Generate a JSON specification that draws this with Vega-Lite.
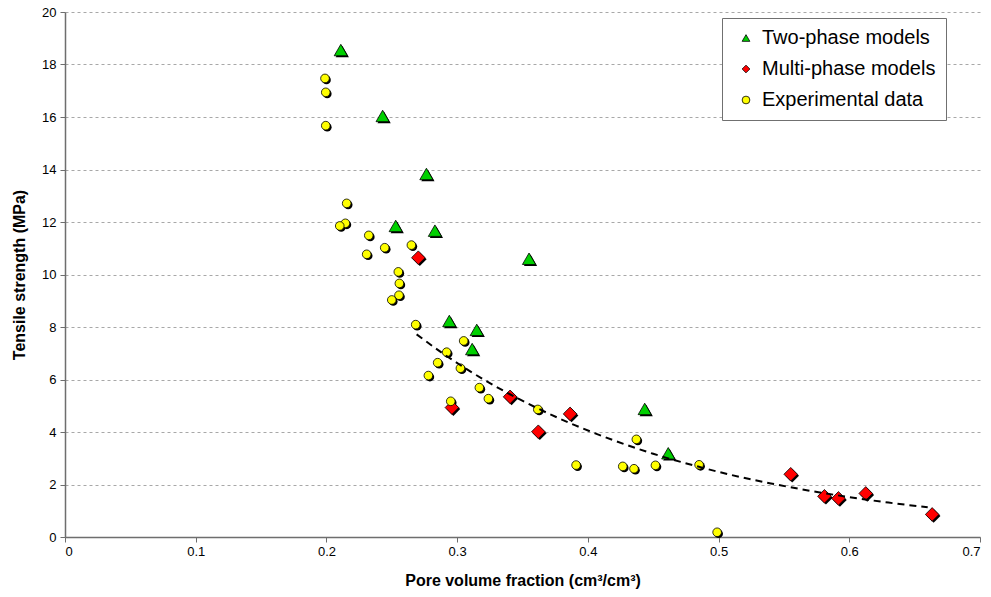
{
  "$schema": "https://vega.github.io/schema/vega-lite/v6.json",
  "width": 915,
  "height": 525,
  "autosize": {"type": "none"},
  "padding": {"left": 65, "top": 12, "right": 11, "bottom": 60},
  "background": "white",
  "config": {
    "view": {"stroke": null},
    "font": "Liberation Sans",
    "axis": {
      "labelFont": "Liberation Sans",
      "labelFontSize": 13,
      "labelColor": "#000000",
      "titleFont": "Liberation Sans",
      "titleFontSize": 16,
      "titleFontWeight": "bold",
      "titleColor": "#000000",
      "domainColor": "#6e6e6e",
      "domainWidth": 1.5,
      "tickColor": "#6e6e6e",
      "tickSize": 5
    }
  },
  "datasets": {
    "points": [
      {"pore": 0.211, "strength": 18.55, "series": "Two-phase models"},
      {"pore": 0.243, "strength": 16.04, "series": "Two-phase models"},
      {"pore": 0.2765, "strength": 13.83, "series": "Two-phase models"},
      {"pore": 0.253, "strength": 11.85, "series": "Two-phase models"},
      {"pore": 0.283, "strength": 11.67, "series": "Two-phase models"},
      {"pore": 0.355, "strength": 10.6, "series": "Two-phase models"},
      {"pore": 0.294, "strength": 8.23, "series": "Two-phase models"},
      {"pore": 0.315, "strength": 7.89, "series": "Two-phase models"},
      {"pore": 0.3115, "strength": 7.16, "series": "Two-phase models"},
      {"pore": 0.4435, "strength": 4.88, "series": "Two-phase models"},
      {"pore": 0.4615, "strength": 3.19, "series": "Two-phase models"},
      {"pore": 0.2703, "strength": 10.64, "series": "Multi-phase models"},
      {"pore": 0.296, "strength": 4.93, "series": "Multi-phase models"},
      {"pore": 0.3405, "strength": 5.34, "series": "Multi-phase models"},
      {"pore": 0.3864, "strength": 4.69, "series": "Multi-phase models"},
      {"pore": 0.3621, "strength": 4.01, "series": "Multi-phase models"},
      {"pore": 0.5552, "strength": 2.39, "series": "Multi-phase models"},
      {"pore": 0.581, "strength": 1.55, "series": "Multi-phase models"},
      {"pore": 0.5917, "strength": 1.47, "series": "Multi-phase models"},
      {"pore": 0.6126, "strength": 1.66, "series": "Multi-phase models"},
      {"pore": 0.6634, "strength": 0.86, "series": "Multi-phase models"},
      {"pore": 0.1989, "strength": 17.47, "series": "Experimental data"},
      {"pore": 0.1995, "strength": 16.94, "series": "Experimental data"},
      {"pore": 0.1995, "strength": 15.67, "series": "Experimental data"},
      {"pore": 0.2155, "strength": 12.71, "series": "Experimental data"},
      {"pore": 0.2145, "strength": 11.95, "series": "Experimental data"},
      {"pore": 0.2102, "strength": 11.85, "series": "Experimental data"},
      {"pore": 0.2324, "strength": 11.49, "series": "Experimental data"},
      {"pore": 0.2446, "strength": 11.02, "series": "Experimental data"},
      {"pore": 0.2308, "strength": 10.77, "series": "Experimental data"},
      {"pore": 0.265, "strength": 11.12, "series": "Experimental data"},
      {"pore": 0.255, "strength": 10.1, "series": "Experimental data"},
      {"pore": 0.2558, "strength": 9.66, "series": "Experimental data"},
      {"pore": 0.2555, "strength": 9.21, "series": "Experimental data"},
      {"pore": 0.25, "strength": 9.03, "series": "Experimental data"},
      {"pore": 0.2683, "strength": 8.09, "series": "Experimental data"},
      {"pore": 0.305, "strength": 7.47, "series": "Experimental data"},
      {"pore": 0.292, "strength": 7.04, "series": "Experimental data"},
      {"pore": 0.2851, "strength": 6.64, "series": "Experimental data"},
      {"pore": 0.3025, "strength": 6.43, "series": "Experimental data"},
      {"pore": 0.278, "strength": 6.15, "series": "Experimental data"},
      {"pore": 0.317, "strength": 5.69, "series": "Experimental data"},
      {"pore": 0.3239, "strength": 5.27, "series": "Experimental data"},
      {"pore": 0.2951, "strength": 5.17, "series": "Experimental data"},
      {"pore": 0.3617, "strength": 4.86, "series": "Experimental data"},
      {"pore": 0.4371, "strength": 3.72, "series": "Experimental data"},
      {"pore": 0.391, "strength": 2.74, "series": "Experimental data"},
      {"pore": 0.4267, "strength": 2.69, "series": "Experimental data"},
      {"pore": 0.4353, "strength": 2.6, "series": "Experimental data"},
      {"pore": 0.4517, "strength": 2.73, "series": "Experimental data"},
      {"pore": 0.4851, "strength": 2.75, "series": "Experimental data"},
      {"pore": 0.4989, "strength": 0.18, "series": "Experimental data"}
    ],
    "trend": [
      {"pore": 0.269, "strength": 7.72},
      {"pore": 0.29, "strength": 6.96},
      {"pore": 0.31, "strength": 6.31},
      {"pore": 0.33, "strength": 5.72},
      {"pore": 0.36, "strength": 4.94},
      {"pore": 0.39, "strength": 4.26},
      {"pore": 0.42, "strength": 3.68},
      {"pore": 0.45, "strength": 3.17},
      {"pore": 0.48, "strength": 2.74},
      {"pore": 0.51, "strength": 2.36},
      {"pore": 0.54, "strength": 2.04},
      {"pore": 0.57, "strength": 1.76},
      {"pore": 0.6, "strength": 1.52},
      {"pore": 0.63, "strength": 1.31},
      {"pore": 0.66, "strength": 1.13}
    ]
  },
  "resolve": {"scale": {"shape": "independent", "fill": "independent"}},
  "layer": [
    {
      "data": {"name": "points"},
      "mark": {"type": "point", "filled": true, "fill": "#000000", "opacity": 1, "xOffset": 1.5, "yOffset": 1.5},
      "encoding": {
        "x": {
          "field": "pore", "type": "quantitative",
          "scale": {"domain": [0, 0.7], "nice": false, "zero": true},
          "axis": {
            "title": "Pore volume fraction (cm³/cm³)",
            "values": [0, 0.1, 0.2, 0.3, 0.4, 0.5, 0.6, 0.7],
            "format": "~g",
            "grid": false,
            "labelPadding": 3,
            "titlePadding": 14
          }
        },
        "y": {
          "field": "strength", "type": "quantitative",
          "scale": {"domain": [0, 20], "nice": false},
          "axis": {
            "title": "Tensile strength (MPa)",
            "values": [0, 2, 4, 6, 8, 10, 12, 14, 16, 18, 20],
            "grid": true,
            "gridColor": "#a8a8a8",
            "gridDash": [3, 3],
            "gridWidth": 1,
            "labelPadding": 4,
            "titlePadding": 14
          }
        },
        "shape": {
          "field": "series", "type": "nominal",
          "scale": {"domain": ["Experimental data", "Two-phase models", "Multi-phase models"], "range": ["circle", "triangle-up", "diamond"]},
          "legend": null
        },
        "size": {
          "field": "series", "type": "nominal",
          "scale": {"type": "ordinal", "domain": ["Experimental data", "Two-phase models", "Multi-phase models"], "range": [75, 175, 185]},
          "legend": null
        }
      }
    },
    {
      "data": {"name": "points"},
      "mark": {"type": "point", "filled": true, "stroke": "#000000", "strokeWidth": 0.8, "opacity": 1},
      "encoding": {
        "x": {"field": "pore", "type": "quantitative"},
        "y": {"field": "strength", "type": "quantitative"},
        "fill": {
          "field": "series", "type": "nominal",
          "scale": {"domain": ["Two-phase models", "Multi-phase models", "Experimental data"], "range": ["#00d000", "#ff0000", "#ffff00"]},
          "legend": {
            "title": null,
            "orient": "none",
            "legendX": 657,
            "legendY": 6,
            "labelFont": "Liberation Sans",
            "labelFontSize": 20,
            "labelColor": "#000000",
            "labelLimit": 400,
            "symbolSize": 60,
            "symbolStrokeColor": "#000000",
            "symbolStrokeWidth": 0.8,
            "symbolOffset": 4,
            "labelOffset": 6,
            "rowPadding": 11,
            "padding": 10,
            "strokeColor": "#707070",
            "fillColor": "#ffffff"
          }
        },
        "shape": {
          "field": "series", "type": "nominal",
          "scale": {"domain": ["Two-phase models", "Multi-phase models", "Experimental data"], "range": ["triangle-up", "diamond", "circle"]}
        },
        "size": {
          "field": "series", "type": "nominal",
          "scale": {"type": "ordinal", "domain": ["Experimental data", "Two-phase models", "Multi-phase models"], "range": [75, 175, 185]},
          "legend": null
        }
      }
    },
    {
      "data": {"name": "trend"},
      "mark": {"type": "line", "color": "#000000", "strokeWidth": 2, "strokeDash": [7, 5], "interpolate": "monotone"},
      "encoding": {
        "x": {"field": "pore", "type": "quantitative"},
        "y": {"field": "strength", "type": "quantitative"}
      }
    }
  ]
}
